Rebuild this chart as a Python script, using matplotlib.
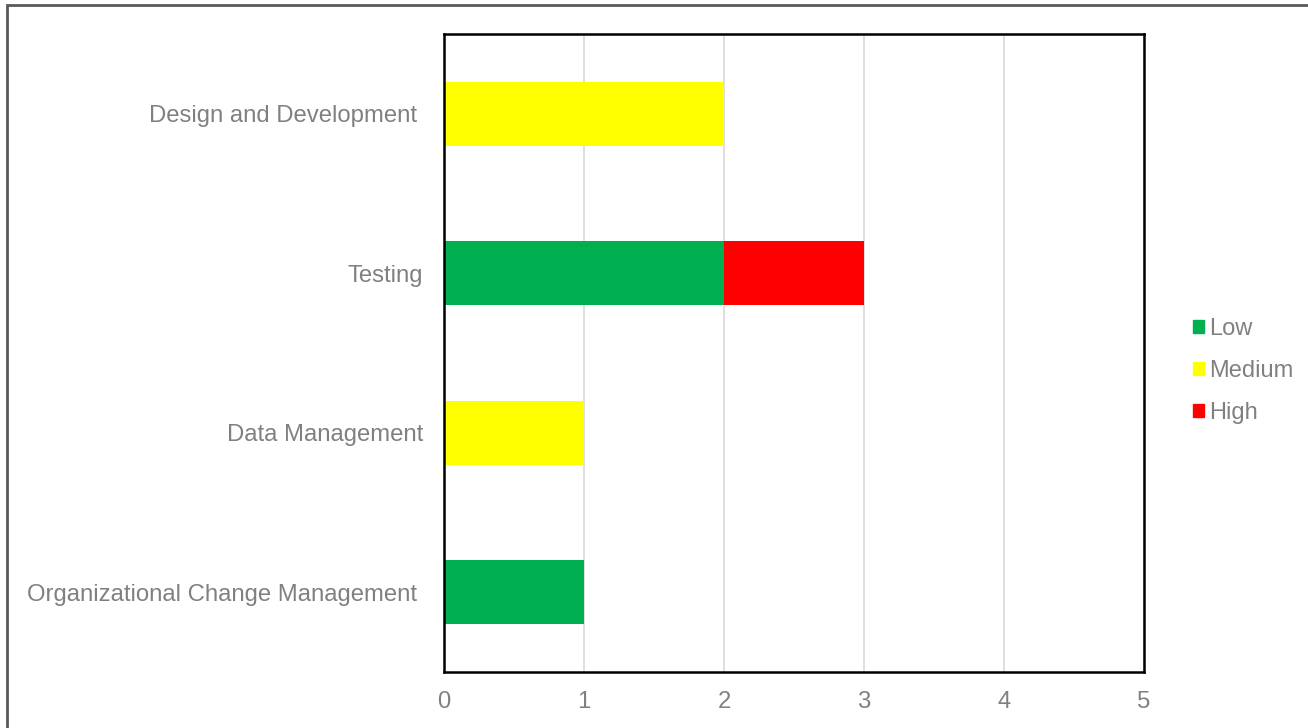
import matplotlib
matplotlib.use("Agg")
import matplotlib.pyplot as plt
from matplotlib.patches import Rectangle, Patch

plt.rcParams["font.family"] = ["Liberation Sans", "DejaVu Sans"]

categories = ["Organizational Change Management ", "Data Management", "Testing", "Design and Development "]
low = [1, 0, 2, 0]
medium = [0, 1, 0, 2]
high = [0, 0, 1, 0]
xticks = [0, 1, 2, 3, 4, 5]

GREEN = "#00B050"
YELLOW = "#FFFF00"
RED = "#FF0000"
TXT = "#808080"

fig = plt.figure(figsize=(13.08, 7.28), dpi=100)
ax = fig.add_axes([444 / 1308, 56 / 728, 700 / 1308, 638 / 728])

y = range(len(categories))
left2 = [a + b for a, b in zip(low, medium)]
ax.barh(y, low, height=0.4, color=GREEN, label="Low", zorder=3)
ax.barh(y, medium, left=low, height=0.4, color=YELLOW, label="Medium", zorder=3)
ax.barh(y, high, left=left2, height=0.4, color=RED, label="High", zorder=3)

ax.set_xlim(0, 5)
ax.set_ylim(-0.5, 3.5)
ax.set_xticks(xticks)
ax.set_yticks(list(y))
ax.set_yticklabels(categories)
ax.tick_params(axis="both", length=0, labelsize=17.2, labelcolor=TXT)
ax.tick_params(axis="x", pad=14)
ax.tick_params(axis="y", pad=15)
ax.grid(axis="x", color="#D9D9D9", linewidth=1.2, zorder=0)
for s in ax.spines.values():
    s.set_color("black")
    s.set_linewidth(1.8)
    s.set_zorder(4)

handles = [Patch(color=GREEN, label="Low"), Patch(color=YELLOW, label="Medium"), Patch(color=RED, label="High")]
leg = fig.legend(handles=handles, loc="center left", bbox_to_anchor=(1181 / 1308, 1 - 371 / 728),
                 frameon=False, fontsize=17, handlelength=0.48, handleheight=0.48,
                 handletextpad=0.2, labelspacing=0.85, borderpad=0)
for t in leg.get_texts():
    t.set_color(TXT)

fig.patches.append(Rectangle((7 / 1308, -0.1), 1.2, 1.1 - 5 / 728, transform=fig.transFigure,
                             fill=False, edgecolor="#595959", linewidth=2))

fig.savefig("out.png", dpi=100)
